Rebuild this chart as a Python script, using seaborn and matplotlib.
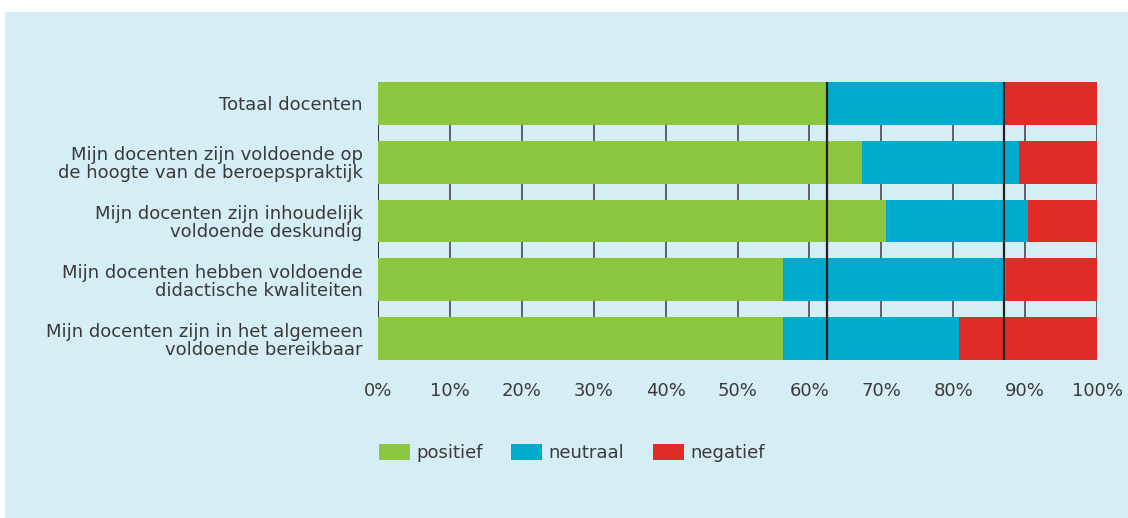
import pandas as pd
import matplotlib.pyplot as plt
import seaborn as sns
from matplotlib.patches import Patch, Rectangle

# data (in %)
categories = [
    "Totaal docenten",
    "Mijn docenten zijn voldoende op\nde hoogte van de beroepspraktijk",
    "Mijn docenten zijn inhoudelijk\nvoldoende deskundig",
    "Mijn docenten hebben voldoende\ndidactische kwaliteiten",
    "Mijn docenten zijn in het algemeen\nvoldoende bereikbaar",
]
positief = [62.5, 67.3, 70.7, 56.3, 56.3]
neutraal = [24.5, 21.9, 19.7, 31.0, 24.5]
negatief = [13.0, 10.8, 9.6, 12.7, 19.2]
series = ["positief", "neutraal", "negatief"]
colors = ["#8dc63f", "#00abce", "#e12b26"]
xticks = [0, 10, 20, 30, 40, 50, 60, 70, 80, 90, 100]

df = pd.DataFrame({"cat": categories, "positief": positief,
                   "neutraal": neutraal, "negatief": negatief})
df["c1"] = df["positief"]
df["c2"] = df["positief"] + df["neutraal"]
df["c3"] = df["c2"] + df["negatief"]

bg = "#d5edf5"
txt = "#3a3a3a"

sns.set_theme(style="white")
plt.rcParams["font.family"] = ["DejaVu Sans"]

fig = plt.figure(figsize=(11.28, 5.18), dpi=100, facecolor="white")
fig.patches.append(Rectangle((5 / 1128, 0), 1 - 5 / 1128, 1 - 12 / 518,
                             transform=fig.transFigure, facecolor=bg,
                             edgecolor="none", zorder=-10))
ax = fig.add_axes([378 / 1128, 1 - 360 / 518, 719 / 1128, 278 / 518])
ax.set_facecolor("none")

# stacked bars: draw the cumulative totals back to front
h = 0.73
for col, c in zip(["c3", "c2", "c1"], colors[::-1]):
    sns.barplot(data=df, x=col, y="cat", color=c, width=h, orient="h",
                saturation=1, linewidth=0, ax=ax, zorder=2)

# grid lines in the gaps
for t in xticks:
    ax.axvline(t, color="#555555" if t else "#222222", lw=1.3, zorder=1)

# reference lines at the totals
tot1 = df["c1"].iloc[0]
tot2 = df["c2"].iloc[0]
for v in [tot1, tot2]:
    ax.axvline(v, color="#222222", lw=1.6, zorder=3)

ax.set_xlim(0, 100)
ax.set_ylim(len(categories) - 1 + h / 2, -h / 2)
ax.set_xticks(xticks)
ax.set_xticklabels([f"{t}%" for t in xticks])
ax.tick_params(axis="x", length=0, pad=16, labelsize=13, labelcolor=txt)
ax.tick_params(axis="y", length=0, pad=11, labelsize=13, labelcolor=txt)
for lab in ax.get_yticklabels():
    lab.set_linespacing(1.0)
ax.set_xlabel("")
ax.set_ylabel("")
sns.despine(ax=ax, left=True, bottom=True)

handles = [Patch(facecolor=c, edgecolor="none") for c in colors]
fig.legend(handles, series, loc="center left",
           bbox_to_anchor=(379 / 1128, 1 - 453 / 518), ncol=3, frameon=False,
           fontsize=13, labelcolor=txt, handlelength=1.7, handleheight=1.05,
           handletextpad=0.35, columnspacing=1.6, borderpad=0, borderaxespad=0)

fig.savefig("out.png", dpi=100, facecolor="white")
